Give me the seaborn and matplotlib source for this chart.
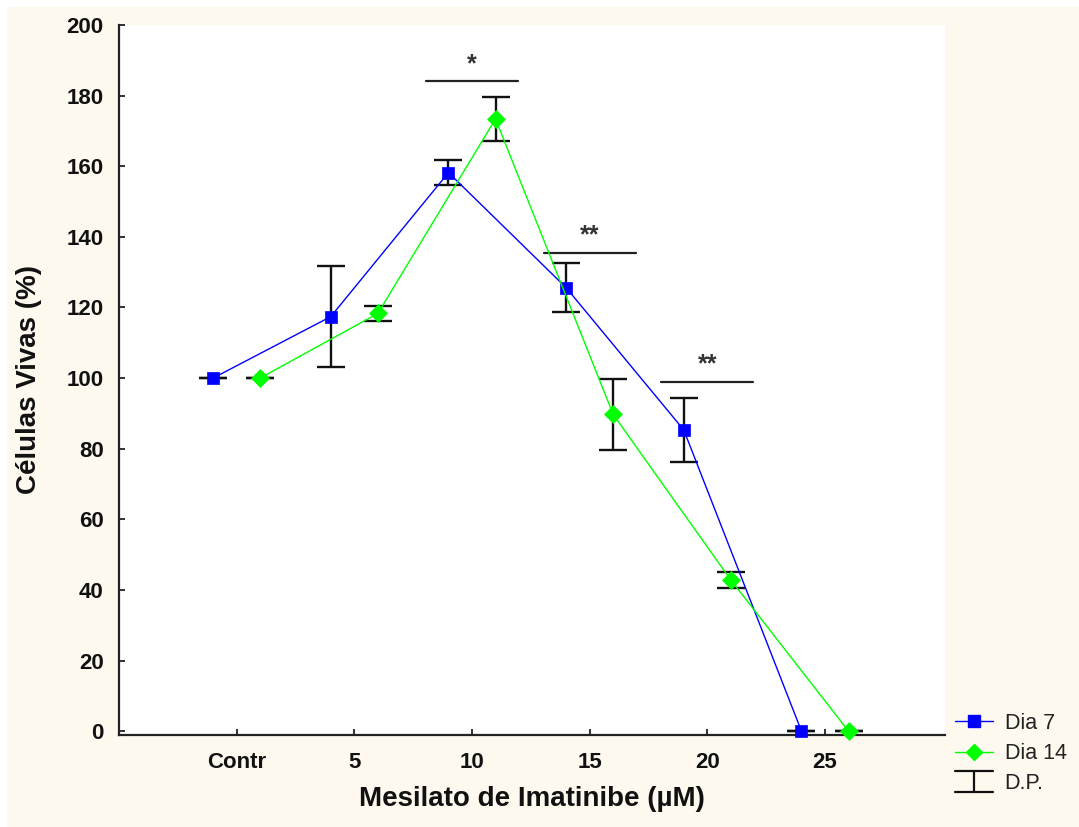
import numpy as np
import pandas as pd
import matplotlib
matplotlib.use("Agg")
import matplotlib.pyplot as plt
import seaborn as sns
from matplotlib.lines import Line2D
from matplotlib.legend_handler import HandlerBase
from matplotlib.patches import Rectangle

# ---------------- data ----------------
categories = ["Contr", "5", "10", "15", "20", "25"]
series_names = ["Dia 7", "Dia 14"]
dia7_mean = [100.0, 117.4, 158.2, 125.6, 85.3, 0.0]
dia7_sd = [0.0, 14.2, 3.5, 7.0, 9.0, 0.0]
dia14_mean = [100.0, 118.3, 173.4, 89.7, 42.8, 0.0]
dia14_sd = [0.0, 2.0, 6.3, 10.0, 2.2, 0.0]
sig_index = [2, 3, 4]
sig_level = [184.0, 135.5, 99.0]
sig_label = ["*", "**", "**"]
y_ticks = [0, 20, 40, 60, 80, 100, 120, 140, 160, 180, 200]
x_label = "Mesilato de Imatinibe (µM)"
y_label = "Células Vivas (%)"
sd_label = "D.P."

# ---------------- style ----------------
sns.set_style("ticks")
plt.rcParams["font.family"] = ["Liberation Sans", "DejaVu Sans"]

colors = {"Dia 7": "#0000FF", "Dia 14": "#00FF00"}
markers = {"Dia 7": "s", "Dia 14": "D"}
offsets = {"Dia 7": -0.2, "Dia 14": 0.2}

rows = []
for name, means, sds in [("Dia 7", dia7_mean, dia7_sd), ("Dia 14", dia14_mean, dia14_sd)]:
    for i, (m, s) in enumerate(zip(means, sds)):
        rows.append({"serie": name, "pos": i + offsets[name], "mean": m, "sd": s})
df = pd.DataFrame(rows)

W, H = 1079, 827
fig = plt.figure(figsize=(W / 100, H / 100), dpi=100)
fig.patch.set_facecolor("white")
fig.add_artist(Rectangle((7 / W, 0), 1 - 7 / W, 1 - 7 / H, transform=fig.transFigure,
                         facecolor="#FEF9EF", edgecolor="none", zorder=-10))

ax = fig.add_axes([119 / W, 92 / H, (945 - 119) / W, (735 - 25) / H])
ax.set_facecolor("white")

# error bars (behind)
for name in series_names:
    sub = df[df["serie"] == name]
    cont = ax.errorbar(sub["pos"], sub["mean"], yerr=sub["sd"], fmt="none", ecolor="#111111",
                       elinewidth=1.7, capsize=10, capthick=1.7, zorder=2, clip_on=False)
    for cap in cont[1]:
        cap.set_color("#111111")
        cap.set_markeredgecolor("#111111")
        cap.set_markeredgewidth(1.7)
    for bl in cont[2]:
        bl.set_color("#111111")

sns.lineplot(data=df, x="pos", y="mean", hue="serie", style="serie",
             hue_order=series_names, style_order=series_names,
             palette=colors, markers=markers, dashes=False, sort=False,
             estimator=None, legend=False, ax=ax, linewidth=1.0,
             markersize=9, zorder=3, clip_on=False)
for ln in ax.get_lines():
    c = ln.get_color()
    if c in colors.values():
        ln.set_markeredgecolor(c)
        ln.set_markerfacecolor(c)
        ln.set_markeredgewidth(0.5)

# significance bars
for idx, lev, lab in zip(sig_index, sig_level, sig_label):
    ax.plot([idx - 0.39, idx + 0.39], [lev, lev], color="#222222", lw=1.6, zorder=2)
    ax.annotate(lab, xy=(idx, lev), xytext=(0, 4), textcoords="offset points",
                ha="center", va="bottom", fontsize=18, fontweight="bold", color="#333333")

ax.set_xlim(-1, 6.02)
ax.set_ylim(-1.1, 200)
ax.set_xticks(range(len(categories)))
ax.set_xticklabels(categories)
ax.set_yticks(y_ticks)

for s in ["top", "right"]:
    ax.spines[s].set_visible(False)
for s in ["left", "bottom"]:
    ax.spines[s].set_linewidth(1.6)
    ax.spines[s].set_color("#222222")

ax.tick_params(direction="in", length=4, width=1.3, colors="#222222", labelsize=16,
               labelcolor="#111111")
ax.tick_params(axis="y", pad=11)
ax.tick_params(axis="x", pad=12)
for t in ax.get_xticklabels() + ax.get_yticklabels():
    t.set_fontweight("bold")

ax.set_xlabel(x_label, fontsize=20, fontweight="bold", color="#111111")
ax.set_ylabel(y_label, fontsize=20, fontweight="bold", color="#111111")
ax.xaxis.set_label_coords(0.5, -0.072)
ax.yaxis.set_label_coords(-0.093, 0.5)


class HandlerDP(HandlerBase):
    def create_artists(self, legend, orig_handle, xdescent, ydescent, width, height,
                       fontsize, trans):
        x0, x1 = -xdescent, -xdescent + width
        xm = (x0 + x1) / 2
        yb = -ydescent - 0.2 * height
        yt = -ydescent + 1.2 * height
        arts = [Line2D([x0, x1], [yt, yt]), Line2D([x0, x1], [yb, yb]),
                Line2D([xm, xm], [yb, yt])]
        for a in arts:
            a.set_color("#111111")
            a.set_linewidth(1.6)
            a.set_transform(trans)
        return arts


handles = [Line2D([], [], color=colors[n], marker=markers[n], lw=1.0, ms=9 if n == "Dia 7" else 8,
                  mec=colors[n], mfc=colors[n]) for n in series_names]
dp = Line2D([], [])
leg = fig.legend(handles + [dp], series_names + [sd_label], loc="upper left",
                 bbox_to_anchor=(955 / W, 1 - 713 / H), frameon=False, fontsize=15.5,
                 handlelength=1.75, handletextpad=0.55, labelspacing=0.42,
                 borderpad=0, borderaxespad=0,
                 handler_map={dp: HandlerDP()})
for t in leg.get_texts():
    t.set_color("#222222")

fig.savefig("out.png", dpi=100, facecolor=fig.get_facecolor())
